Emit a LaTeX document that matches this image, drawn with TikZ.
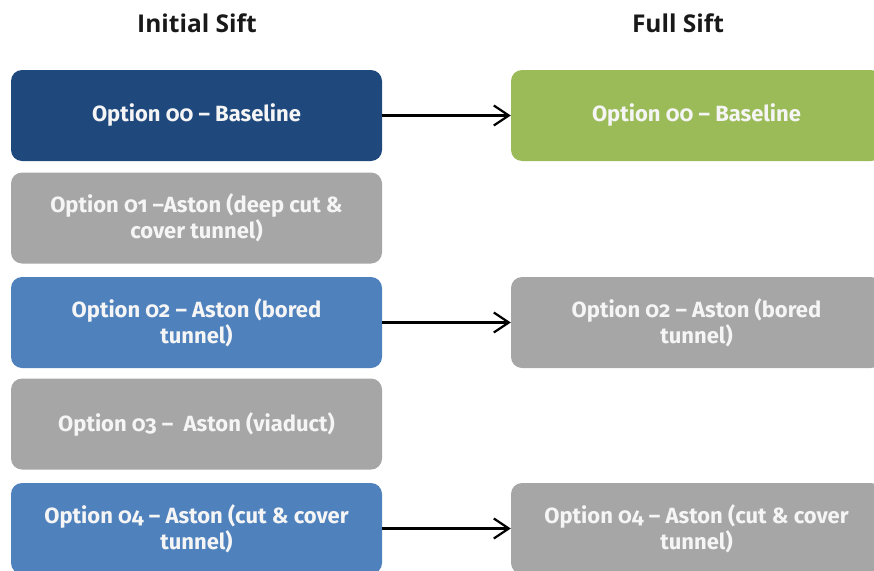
\documentclass[tikz,border=0pt]{standalone}
\usepackage{fontspec}
\setmainfont{Fira Sans}[Numbers=OldStyle]
\newfontfamily\headfont{Open Sans}
\usetikzlibrary{arrows.meta}
\definecolor{navyopt}{HTML}{1F497D}
\definecolor{blueopt}{HTML}{4F81BD}
\definecolor{greyopt}{HTML}{A6A6A6}
\definecolor{greenopt}{HTML}{9BBB59}
\tikzset{
  optbox/.style={draw=none, rounded corners=11pt, minimum width=371pt,
    minimum height=91pt, align=center, text=white!96!black,
    font=\fontsize{22pt}{26pt}\selectfont\bfseries, inner sep=0pt},
  headtext/.style={font=\headfont\fontsize{24.5pt}{28pt}\selectfont\bfseries, text=black!90},
  flow/.style={line width=2.2pt, -{Straight Barb[length=15pt,width=20pt,line width=2.2pt]}}
}
\begin{document}
\begin{tikzpicture}[x=1pt, y=-1pt]
  \useasboundingbox (0,0) rectangle (874,570);
  \clip (0,0) rectangle (874,570);
  % column headings
  \node[headtext] (h1) at (197,23) {Initial Sift};
  \node[headtext] (h2) at (678,23) {Full Sift};
  % initial sift options
  \node[optbox, fill=navyopt] (a0) at (196.5,115.5) {Option 00 – Baseline};
  \node[optbox, fill=greyopt] (a1) at (196.5,218) {Option 01 –Aston (deep cut \&\\cover tunnel)};
  \node[optbox, fill=blueopt] (a2) at (196.5,322.5) {Option 02 – Aston (bored\\tunnel)};
  \node[optbox, fill=greyopt] (a3) at (196.5,424) {Option 03 –\ \ Aston (viaduct)};
  \node[optbox, fill=blueopt] (a4) at (196.5,528.5) {Option 04 – Aston (cut \& cover\\tunnel)};
  % full sift options
  \node[optbox, fill=greenopt] (b0) at (696.5,115.5) {Option 00 – Baseline};
  \node[optbox, fill=greyopt] (b2) at (696.5,322.5) {Option 02 – Aston (bored\\tunnel)};
  \node[optbox, fill=greyopt] (b4) at (696.5,528.5) {Option 04 – Aston (cut \& cover\\tunnel)};
  % carried forward
  \draw[flow] (a0) -- (b0);
  \draw[flow] (a2) -- (b2);
  \draw[flow] (a4) -- (b4);
\end{tikzpicture}
\end{document}
